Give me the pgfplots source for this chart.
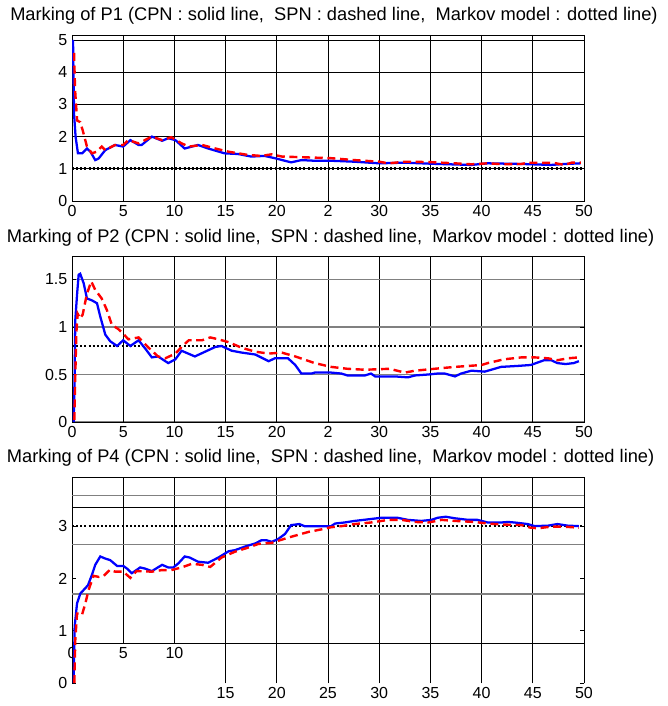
\documentclass[border=0pt]{standalone}
\usepackage{fontspec}
\setmainfont{Liberation Sans}
\usepackage{pgfplots}
\pgfplotsset{compat=1.18}

\definecolor{gridgray}{RGB}{128,128,128}

\pgfplotsset{
  panel/.style={
    scale only axis, width=384pt,
    xmin=0, xmax=50, ymin=0,
    axis line style={black, line width=0.7pt},
    tick align=inside, major tick length=3pt,
    tick style={black, line width=0.5pt},
    xmajorgrids, grid style={black, line width=0.5pt},
    ticklabel style={font=\fontsize{12}{14}\selectfont},
    /pgf/number format/assume math mode=true,
    anchor=south west,
  },
  cpn/.style={blue, line width=1.7pt},
  spn/.style={red, line width=1.8pt, dash pattern=on 6pt off 3.5pt},
  markov/.style={black, line width=2pt, dash pattern=on 1.5pt off 1.6pt},
}

\newcommand{\ptitle}[1]{Marking of #1 (CPN : solid line,\ \ SPN : dashed line,\ \ Markov model : dotted line)}

\begin{document}
\begin{tikzpicture}
\path[use as bounding box] (0,0) rectangle (500.25pt,-529.5pt);

\node[anchor=base west, inner sep=0pt, font=\fontsize{13.7}{16}\selectfont] at (7.5pt,-15.75pt) {\ptitle{P1}};
\node[anchor=base west, inner sep=0pt, font=\fontsize{13.7}{16}\selectfont] at (5pt,-181.5pt) {\ptitle{P2}};
\node[anchor=base west, inner sep=0pt, font=\fontsize{13.7}{16}\selectfont] at (5pt,-346.5pt) {\ptitle{P4}};

% ---- P1 ----
\begin{axis}[panel, at={(54pt,-150.75pt)}, height=124.5pt,
  ymax=5.155, ytick={0,1,2,3,4,5}, ymajorgrids,
  xtick={0,5,...,50}, xticklabels={0,5,10,15,20,2,30,35,40,45,50}]
\addplot[markov] coordinates {(0,1) (50,1)};
\addplot[cpn] coordinates {(0.1,5.0) (0.2,2.7) (0.35,2.0) (0.58,1.48) (1.0,1.48) (1.46,1.63) (1.8,1.53)
 (2.27,1.27) (2.6,1.32) (3.25,1.58) (4.2,1.74) (5.0,1.69) (5.7,1.89) (6.5,1.74) (6.8,1.74)
 (7.8,2.0) (8.8,1.87) (9.4,1.95) (10.1,1.89) (11.0,1.63) (12.3,1.74) (13.3,1.63) (14.9,1.48)
 (16.2,1.46) (17.5,1.38) (18.8,1.40) (19.8,1.33) (21.4,1.2) (22.4,1.27) (23.7,1.25) (25.3,1.25)
 (27.6,1.22) (30,1.17) (32.5,1.19) (35.7,1.15) (39,1.12) (40.6,1.17) (43.9,1.15) (46.8,1.12)
 (48.1,1.15) (49.7,1.17)};
\addplot[spn] coordinates {(0.2,4.6) (0.3,3.45) (0.5,2.5) (0.8,2.45) (1.04,2.2) (1.46,1.69) (1.95,1.48)
 (2.4,1.53) (2.9,1.69) (3.25,1.58) (4.2,1.74) (5.0,1.74) (5.5,1.89) (6.5,1.79) (7.8,2.0) (8.8,1.89)
 (9.7,1.98) (10.7,1.79) (11.4,1.69) (12.7,1.74) (14,1.63) (15.3,1.53) (17.2,1.43) (18.5,1.40)
 (19.5,1.45) (20.5,1.38) (22.4,1.36) (25.3,1.33) (27.6,1.27) (30,1.22) (30.9,1.17) (32.5,1.22)
 (34.8,1.21) (37.4,1.17) (39,1.14) (40.6,1.17) (42.2,1.14) (43.9,1.15) (44.5,1.19) (47.1,1.18)
 (48.1,1.12) (48.8,1.19) (49.7,1.19)};
\end{axis}

% ---- P2 ----
\begin{axis}[panel, at={(54pt,-316.5pt)}, height=124.5pt,
  ymax=1.747, ytick={0,0.5,1,1.5}, ymajorgrids,
  y grid style={gridgray, line width=1pt},
  xtick={0,5,...,50}, xticklabels={0,5,10,15,20,2,30,35,40,45,50}]
\addplot[markov] coordinates {(0,0.8) (50,0.8)};
\addplot[cpn] coordinates {(0.16,0) (0.26,0.51) (0.32,1.07) (0.5,1.35) (0.65,1.55) (0.8,1.56) (1.14,1.46)
 (1.46,1.30) (1.95,1.28) (2.44,1.25) (2.76,1.11) (3.25,0.92) (3.73,0.85) (4.4,0.80) (5.0,0.86)
 (5.7,0.80) (6.5,0.86) (7.1,0.78) (7.8,0.68) (8.4,0.69) (9.4,0.62) (10.1,0.66) (10.7,0.75) (12,0.69)
 (13,0.74) (14,0.79) (14.6,0.80) (15.6,0.75) (16.6,0.73) (17.9,0.71) (19.2,0.64) (19.8,0.67)
 (21.1,0.67) (21.8,0.60) (22.4,0.51) (23.4,0.51) (23.7,0.52) (25.3,0.52) (26.3,0.51) (26.9,0.49)
 (28.6,0.49) (29.2,0.51) (29.6,0.48) (31.5,0.48) (32.8,0.47) (33.5,0.49) (34.8,0.50) (35.7,0.51)
 (36.4,0.51) (37.4,0.48) (38.0,0.51) (39,0.54) (40.3,0.53) (41.9,0.58) (43.5,0.59) (44.8,0.60)
 (46.1,0.65) (46.8,0.65) (47.4,0.62) (48.2,0.61) (49.0,0.62) (49.5,0.64)};
\addplot[spn] coordinates {(0.23,0.02) (0.32,0.48) (0.42,0.93) (0.55,1.14) (0.81,1.09) (1.04,1.13)
 (1.46,1.35) (1.88,1.48) (2.27,1.39) (2.9,1.30) (3.4,1.18) (3.9,1.02) (4.5,0.98) (5.0,0.93) (5.5,0.87)
 (6.5,0.89) (7.5,0.78) (8.4,0.69) (9.1,0.67) (10.1,0.72) (10.7,0.79) (11.4,0.86) (12.7,0.86)
 (13.5,0.89) (14.3,0.87) (15.3,0.84) (16.6,0.78) (17.9,0.74) (19.2,0.72) (20.5,0.73) (21.8,0.69)
 (23.7,0.62) (25.3,0.58) (26.9,0.56) (28.6,0.55) (31,0.56) (32.5,0.52) (33.5,0.54) (35.4,0.56)
 (37.4,0.58) (40,0.60) (40.6,0.62) (42.2,0.66) (43.9,0.68) (45.2,0.68) (46.5,0.67) (47.4,0.65)
 (48.4,0.67) (49.5,0.68)};
\end{axis}

% ---- P4 ----
\begin{axis}[panel, at={(54pt,-512.25pt)}, height=154.5pt,
  ymax=3.94, ytick={0,1,2,3},
  axis line style={draw=none},
  xtick={15,20,...,50},
  extra x ticks={0,5,10},
  extra x tick style={grid=none, major tick length=0pt, tick label style={yshift=30pt}}]
\draw[black, line width=0.7pt] (rel axis cs:0,0) -- (rel axis cs:0,1) -- (rel axis cs:1,1) -- (rel axis cs:1,0);
\draw[black, line width=0.5pt] (axis cs:5,0.76) -- (axis cs:5,3.94);
\draw[black, line width=0.5pt] (axis cs:10,0.76) -- (axis cs:10,3.94);
\draw[gridgray, line width=1pt] (axis cs:0,3.58) -- (axis cs:50,3.58);
\draw[gridgray, line width=1pt] (axis cs:0,2.65) -- (axis cs:50,2.65);
\draw[gridgray, line width=1pt] (axis cs:0,1.70) -- (axis cs:50,1.70);
\draw[black, line width=0.8pt] (axis cs:0,3.35) -- (axis cs:50,3.35);
\draw[black, line width=1.1pt] (axis cs:0,0.76) -- (axis cs:50,0.76);
\addplot[markov] coordinates {(0,3) (50,3)};
\addplot[cpn] coordinates {(0.16,0) (0.26,1.08) (0.49,1.52) (0.81,1.71) (1.14,1.78) (1.56,1.87) (1.95,2.07)
 (2.27,2.26) (2.76,2.42) (3.25,2.38) (3.73,2.35) (4.4,2.24) (5.0,2.24) (5.36,2.19) (5.84,2.10)
 (6.66,2.21) (7.1,2.19) (7.8,2.14) (8.8,2.26) (9.4,2.21) (9.9,2.21) (10.4,2.29) (11.0,2.42)
 (11.5,2.40) (12.3,2.32) (13.3,2.30) (14.3,2.40) (15.3,2.52) (15.9,2.54) (16.9,2.61) (17.9,2.67)
 (18.5,2.73) (19,2.73) (19.5,2.70) (20.1,2.75) (20.8,2.85) (21.4,3.02) (22.2,3.04) (22.7,3.00)
 (25.3,3.00) (25.7,3.05) (26.6,3.07) (27.6,3.10) (28.9,3.13) (30.2,3.16) (31.8,3.16) (32.8,3.12)
 (34.1,3.10) (35.1,3.12) (35.7,3.16) (36.5,3.18) (37.4,3.15) (38.7,3.12) (39.6,3.12) (40.6,3.07)
 (41.9,3.07) (42.6,3.08) (43.2,3.07) (44.5,3.04) (45.2,3.0) (46.5,3.01) (47.4,3.04) (48.4,3.01)
 (49.5,3.0)};
\addplot[spn] coordinates {(0.23,0) (0.32,0.82) (0.49,1.33) (0.81,1.33) (0.97,1.30) (1.3,1.52) (1.62,1.78)
 (2.1,2.05) (2.6,2.03) (3.1,2.05) (3.73,2.17) (4.2,2.13) (5.0,2.13) (5.7,2.01) (6.3,2.14) (7.8,2.13)
 (8.8,2.16) (9.7,2.16) (10.7,2.21) (11.7,2.28) (12.7,2.26) (13.5,2.22) (14.6,2.40) (15.9,2.51)
 (17.2,2.59) (18.2,2.66) (19.5,2.68) (21.1,2.78) (23.1,2.89) (24.4,2.94) (25.3,2.98) (26.3,3.0)
 (27.6,3.04) (29.2,3.07) (30.9,3.12) (32.2,3.12) (33.5,3.08) (34.8,3.07) (36.1,3.12) (37.4,3.10)
 (39.3,3.08) (40.6,3.05) (42.2,3.03) (43.9,3.02) (44.8,2.97) (45.5,2.96) (46.8,2.99) (48.1,2.99)
 (49.5,2.97)};
\end{axis}
\end{tikzpicture}
\end{document}
